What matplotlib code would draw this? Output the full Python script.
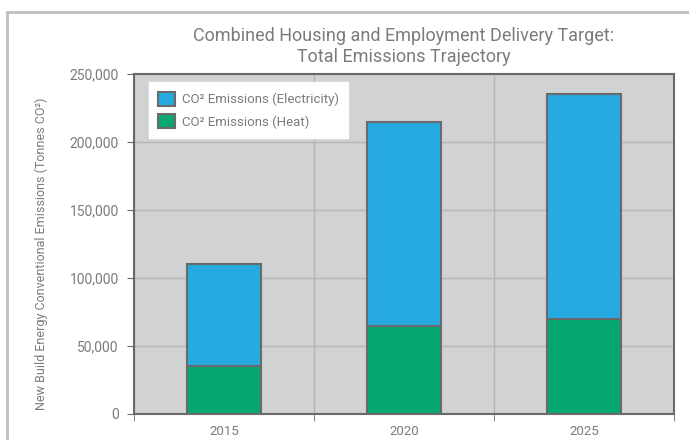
import matplotlib
matplotlib.use("Agg")
import matplotlib.pyplot as plt
import numpy as np
from matplotlib.patches import Rectangle

years = ["2015", "2020", "2025"]
heat = [35000, 65000, 70000]
electricity = [75000, 150000, 165000]
yticks = [0, 50000, 100000, 150000, 200000, 250000]

txt = "#7a7b7e"
plt.rcParams['font.family'] = ['Roboto', 'DejaVu Sans']
plt.rcParams['font.weight'] = 'normal'

fig = plt.figure(figsize=(6.89, 4.40), dpi=100)
fig.patch.set_facecolor("white")
ax = fig.add_axes([0.1945, 0.0591, 0.7835, 0.7727])
ax.set_facecolor("#d1d2d4")

x = np.arange(len(years))
w = 0.415
ax.bar(x, heat, w, color="#07a870", edgecolor="#6a6a6a", linewidth=1.5,
       label="CO² Emissions (Heat)", zorder=3)
ax.bar(x, electricity, w, bottom=heat, color="#27a9e1", edgecolor="#6a6a6a",
       linewidth=1.5, label="CO² Emissions (Electricity)", zorder=3)

ax.set_xlim(-0.5, 2.5)
ax.set_ylim(0, 250000)
ax.set_yticks(yticks)
ax.set_yticklabels([f"{v:,}" for v in yticks], color=txt, fontsize=10)
ax.set_xticks(x)
ax.set_xticklabels(years, color=txt, fontsize=9.5)
ax.tick_params(axis='x', which='major', length=0, pad=8)
ax.set_xticks([-0.5, 0.5, 1.5, 2.5], minor=True)
ax.tick_params(axis='x', which='minor', length=5, color="#6a6a6a", direction='out')
ax.tick_params(axis='y', length=5, color="#6a6a6a", direction='out', pad=6)

ax.grid(axis='y', color="#b4b5b7", linewidth=1, zorder=0)
ax.grid(axis='x', which='minor', color="#b4b5b7", linewidth=1, zorder=0)
ax.set_axisbelow(True)
for s in ax.spines.values():
    s.set_color("#6a6a6a")
    s.set_linewidth(1.5)

ax.set_ylabel("New Build Energy Conventional Emissions (Tonnes CO²)",
              color=txt, fontsize=9)
ax.yaxis.set_label_coords(-0.16, 0.47)
ax.set_title("Combined Housing and Employment Delivery Target:\nTotal Emissions Trajectory",
             color=txt, fontsize=13, pad=9, linespacing=1.15)

handles, labels = ax.get_legend_handles_labels()
leg = ax.legend(handles[::-1], labels[::-1], loc='upper left',
                bbox_to_anchor=(0.015, 0.995), frameon=True, fancybox=False,
                framealpha=1, fontsize=9.5, labelcolor=txt, handlelength=1.3,
                handleheight=1.3, borderpad=0.7, labelspacing=0.6,
                handletextpad=0.5)
leg.get_frame().set_facecolor("white")
leg.get_frame().set_edgecolor("white")
leg.set_zorder(5)

fig.patches.append(Rectangle((7 / 689, -0.1), 1.2, 1 - 12 / 440 + 0.1,
                             transform=fig.transFigure, fill=False,
                             edgecolor="#bcbec0", linewidth=2, clip_on=False))

fig.savefig("out.png", dpi=100)
